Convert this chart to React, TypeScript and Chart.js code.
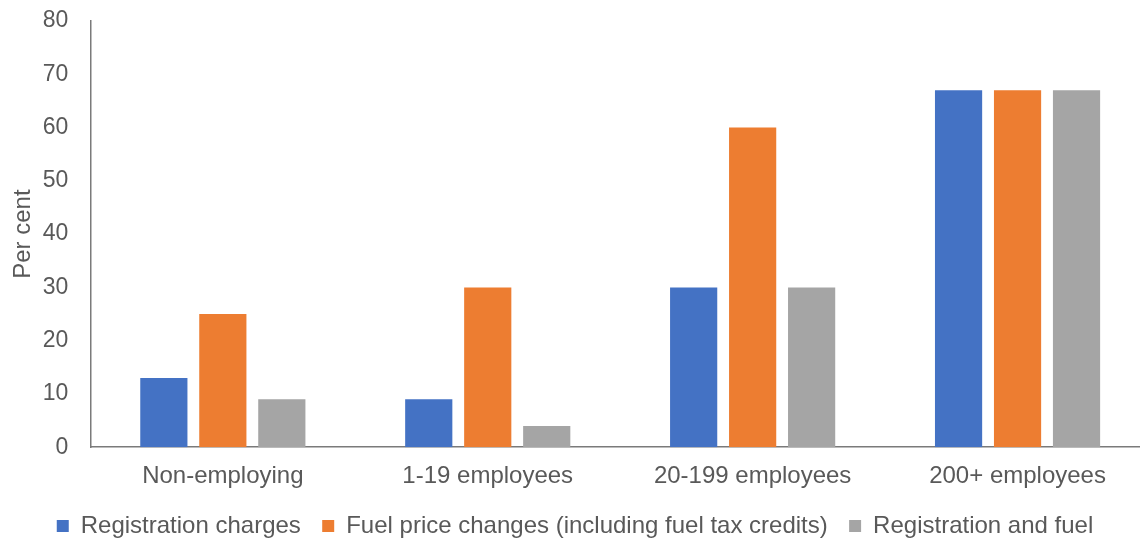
import React, { useEffect, useRef } from "react";
import { Chart, registerables } from "chart.js";

Chart.register(...registerables);

const categories = ["Non-employing", "1-19 employees", "20-199 employees", "200+ employees"];
const registrationCharges = [13, 9, 30, 67];
const fuelPriceChanges = [25, 30, 60, 67];
const registrationAndFuel = [9, 4, 30, 67];
const seriesNames = [
  "Registration charges",
  "Fuel price changes (including fuel tax credits)",
  "Registration and fuel",
];
const seriesColors = ["#4472C4", "#ED7D31", "#A5A5A5"];
const yTicks = [0, 10, 20, 30, 40, 50, 60, 70, 80];

const FONT = "'Liberation Sans', Arial, sans-serif";
const TEXT = "#595959";
const AXIS = "#7a7a7a";

export default function App() {
  const ref = useRef<HTMLCanvasElement | null>(null);

  useEffect(() => {
    if (!ref.current) return;
    const values = [registrationCharges, fuelPriceChanges, registrationAndFuel];
    const chart = new Chart(ref.current, {
      type: "bar",
      data: {
        labels: categories,
        datasets: seriesNames.map((name, i) => ({
          label: name,
          data: values[i],
          backgroundColor: seriesColors[i],
          categoryPercentage: 0.668,
          barPercentage: 0.8,
          borderWidth: 0,
        })),
      },
      options: {
        animation: false,
        responsive: true,
        maintainAspectRatio: false,
        layout: { padding: { left: 0, right: 0, top: 21, bottom: 0 } },
        plugins: {
          tooltip: { enabled: false },
          legend: {
            position: "bottom",
            labels: {
              font: { family: FONT, size: 24 },
              color: TEXT,
              boxWidth: 12,
              boxHeight: 12,
              padding: 8,
              generateLabels: (c: any) => {
                const items = Chart.defaults.plugins.legend.labels.generateLabels(c);
                return items.map((it: any, i: number) => ({
                  ...it,
                  text: i < items.length - 1 ? it.text + "  " : it.text,
                  lineWidth: 0,
                }));
              },
            },
          },
        },
        scales: {
          x: {
            grid: { display: false, drawTicks: false },
            border: { display: true, color: AXIS, width: 1.5 },
            ticks: { font: { family: FONT, size: 24 }, color: TEXT, padding: 15 },
          },
          y: {
            min: 0,
            max: 80,
            afterBuildTicks: (axis: any) => {
              axis.ticks = yTicks.map((v) => ({ value: v }));
            },
            grid: { display: false, drawTicks: true, tickLength: 20 },
            border: { display: true, color: AXIS, width: 1.5 },
            ticks: { font: { family: FONT, size: 23 }, color: TEXT, padding: 2 },
            title: {
              display: true,
              text: "Per cent",
              font: { family: FONT, size: 24 },
              color: TEXT,
              padding: { top: 9, bottom: 3 },
            },
          },
        },
      },
    });
    return () => chart.destroy();
  }, []);

  return (
    <div style={{ position: "fixed", left: 0, top: 0, width: 1140, height: 541, overflow: "hidden", background: "#fff" }}>
      <div style={{ position: "absolute", left: 0, top: 0, width: 1150, height: 548 }}>
        <canvas ref={ref} />
      </div>
    </div>
  );
}
